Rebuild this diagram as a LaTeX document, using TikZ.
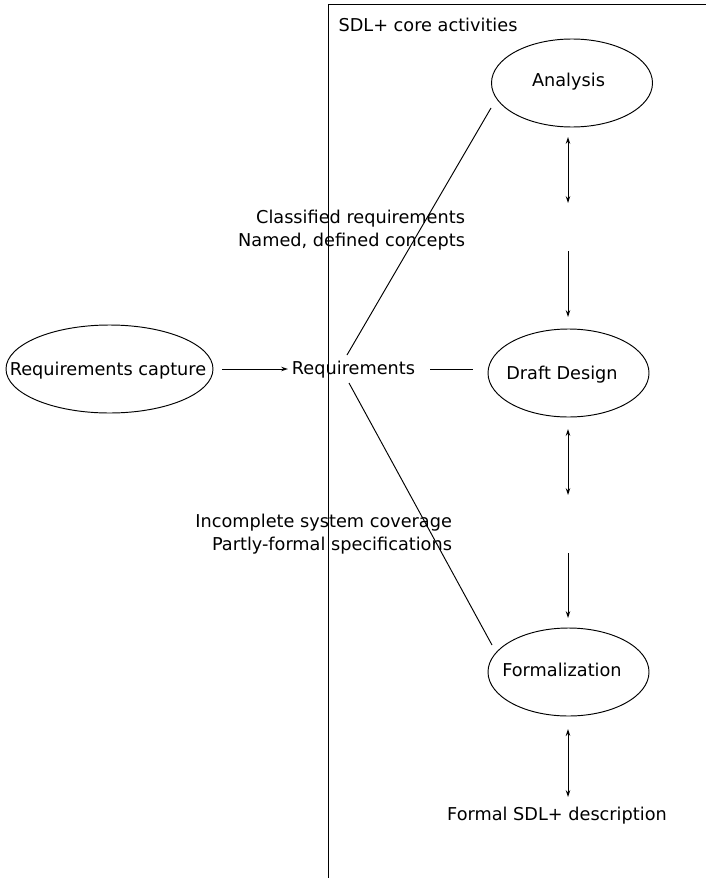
\documentclass[tikz,border=0pt]{standalone}
\usepackage{fontspec}
\setmainfont{DejaVu Sans}
\usetikzlibrary{arrows.meta,shapes.geometric}
\begin{document}
\begin{tikzpicture}[x=1pt,y=-1pt,
  every node/.style={font=\fontsize{17.7}{23}\selectfont},
  oval/.style={draw,ellipse,line width=0.95pt,inner sep=0pt,minimum width=161pt,minimum height=88pt},
  link/.style={line width=0.95pt},
  tip/.style={line width=0.95pt,-{Stealth[length=7pt,width=4.6pt]}},
  both/.style={line width=0.95pt,{Stealth[length=7pt,width=4.6pt]}-{Stealth[length=7pt,width=4.6pt]}}]
\useasboundingbox (0,0) rectangle (706,878);
% frame of the core activities
\draw[link] (328,878) -- (328,4) -- (706,4);
\node[anchor=west] (title) at (335,25) {SDL+ core activities};
% activity ellipses
\node[oval] (anaE) at (572,83) {};
\node (ana) at (568.5,82) {Analysis};
\node[oval] (ddE) at (568.5,373) {};
\node (dd) at (562,375) {Draft Design};
\node[oval] (formE) at (568.5,672) {};
\node (form) at (562,670) {Formalization};
\node[oval,minimum width=207pt] (capE) at (109.5,369) {};
\node (cap) at (108,371) {Requirements capture};
\node (req) at (353.5,370) {Requirements};
\node (fsd) at (557,816) {Formal SDL+ description};
% annotations
\node[align=right,anchor=east] (n1) at (468.5,230) {Classified requirements\\Named, defined concepts};
\node[align=right,anchor=east] (n2) at (455.5,534) {Incomplete system coverage\\Partly-formal specifications};
% connector end points
\coordinate (c1) at (222,369); \coordinate (c2) at (288,369);
\coordinate (r1) at (430,369); \coordinate (r2) at (473,369);
\coordinate (u1) at (347,355); \coordinate (u2) at (491,108);
\coordinate (l1) at (349,383); \coordinate (l2) at (492,645);
\coordinate (a1) at (568,137); \coordinate (a2) at (568,203);
\coordinate (a3) at (568,251); \coordinate (a4) at (568,317);
\coordinate (b1) at (568,429); \coordinate (b2) at (568,495);
\coordinate (b3) at (568,553); \coordinate (b4) at (568,618);
\coordinate (f1) at (568,729); \coordinate (f2) at (568,797);
% connectors
\draw[tip] (c1) -- (c2);
\draw[link] (r1) -- (r2);
\draw[link] (u1) -- (u2);
\draw[link] (l1) -- (l2);
\draw[both] (a1) -- (a2);
\draw[tip] (a3) -- (a4);
\draw[both] (b1) -- (b2);
\draw[tip] (b3) -- (b4);
\draw[both] (f1) -- (f2);
\end{tikzpicture}
\end{document}
